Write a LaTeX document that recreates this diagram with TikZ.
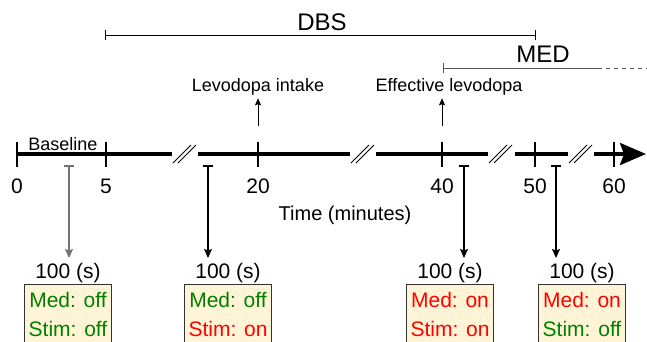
\documentclass[tikz,border=0pt]{standalone}
\usepackage{fontspec}
\setmainfont{Liberation Sans}
\usetikzlibrary{arrows.meta}
\definecolor{medgreen}{RGB}{0,128,0}
\definecolor{medred}{RGB}{255,0,0}
\definecolor{boxfill}{RGB}{255,245,214}

\begin{document}
\begin{tikzpicture}[x=1pt,y=-1pt,
  axis/.style={line width=3.6pt},
  tick/.style={line width=1.1pt},
  brk/.style={line width=0.8pt},
  span/.style={line width=1pt},
  rec/.style={line width=1.1pt,-{Stealth[length=9pt,width=8pt,inset=1.5pt]}},
  recbox/.style={draw=black!80,line width=1pt,fill=boxfill,minimum width=87pt,
    minimum height=64pt,inner sep=0pt},
  state/.style={font=\fontsize{21}{25}\selectfont,anchor=base},
  big/.style={font=\fontsize{24}{28}\selectfont},
  mid/.style={font=\fontsize{21}{25}\selectfont},
  small/.style={font=\fontsize{18}{22}\selectfont}]

\clip (0,0) rectangle (647,341);

% time axis, broken in four places
\coordinate (A0) at (17,154);
\coordinate (A1) at (172,154);
\coordinate (B0) at (198,154);
\coordinate (B1) at (350,154);
\coordinate (C0) at (376,154);
\coordinate (C1) at (488,154);
\coordinate (D0) at (515,154);
\coordinate (D1) at (568,154);
\coordinate (E0) at (594,154);
\coordinate (E1) at (646,154);
\draw[axis] (A0) -- (A1);
\draw[axis] (B0) -- (B1);
\draw[axis] (C0) -- (C1);
\draw[axis] (D0) -- (D1);
\draw[axis,-{Stealth[length=26pt,width=22pt,inset=4pt]}] (E0) -- (E1);
\foreach \c in {185,363,501,581}{
  \draw[brk] (\c-12,163) -- (\c+6,145);
  \draw[brk] (\c-7,163) -- (\c+11,145);
}

% ticks and minutes
\foreach \x/\t in {17/0,106/5,258/20,442/40,535/50,614/60}{
  \draw[tick] (\x,142) -- (\x,167);
  \node[mid,anchor=base] (L\t) at (\x,193) {\t};
}
\node[font=\fontsize{20}{24}\selectfont,anchor=base] (time) at (345,220) {Time (minutes)};
\node[small,anchor=base] (base) at (63,150) {Baseline};

% levodopa
\node[small,anchor=base] (intake) at (258,91) {Levodopa intake};
\node[small,anchor=base] (effect) at (449,91) {Effective levodopa};
\coordinate (I0) at (258,126);
\coordinate (F0) at (442,126);
\draw[line width=1pt,-{Stealth[length=7pt,width=6pt,inset=1pt]}] (I0) -- (intake.south -| I0);
\draw[line width=1pt,-{Stealth[length=7pt,width=6pt,inset=1pt]}] (F0) -- (effect.south -| F0);

% DBS and MED periods
\coordinate (dbs0) at (105,35);
\coordinate (dbs1) at (535,35);
\draw[span] (dbs0) -- (dbs1);
\draw[span] ([yshift=-5]dbs0) -- ([yshift=5]dbs0);
\draw[span] ([yshift=-5]dbs1) -- ([yshift=5]dbs1);
\node[big,anchor=base] (DBS) at (322,30) {DBS};
\coordinate (med0) at (443,68);
\coordinate (med1) at (598,68);
\coordinate (med2) at (647,68);
\draw[span,black!65] (med0) -- (med1);
\draw[span,black!65,dash pattern=on 4pt off 4pt] (med1) -- (med2);
\draw[span,black!65] ([yshift=-5]med0) -- ([yshift=5]med0);
\node[big,anchor=base] (MED) at (543,62) {MED};

% recordings
\node[mid,anchor=base] (d1) at (68,278) {100 (s)};
\node[mid,anchor=base] (d2) at (228,278) {100 (s)};
\node[mid,anchor=base] (d3) at (450,278) {100 (s)};
\node[mid,anchor=base] (d4) at (582,278) {100 (s)};
\node[recbox,anchor=north] (R1) at (68,284) {};
\node[recbox,anchor=north] (R2) at (228,284) {};
\node[recbox,anchor=north] (R3) at (450,284) {};
\node[recbox,anchor=north] (R4) at (582,284) {};
\node[state,medgreen] (m1) at (68,307) {Med: off};
\node[state,medgreen] (s1) at (68,336) {Stim: off};
\node[state,medgreen] (m2) at (228,307) {Med: off};
\node[state,medred] (s2) at (228,336) {Stim: on};
\node[state,medred] (m3) at (450,307) {Med: on};
\node[state,medred] (s3) at (450,336) {Stim: on};
\node[state,medred] (m4) at (582,307) {Med: on};
\node[state,medgreen] (s4) at (582,336) {Stim: off};

\coordinate (S1) at (69,166);
\coordinate (S2) at (208,166);
\coordinate (S3) at (464,166);
\coordinate (S4) at (556,166);
\coordinate (S1e) at (69,258);
\coordinate (S2e) at (208,258);
\coordinate (S3e) at (464,258);
\coordinate (S4e) at (556,258);
\draw[rec,black!55] (S1) -- (S1e);
\draw[rec] (S2) -- (S2e);
\draw[rec] (S3) -- (S3e);
\draw[rec] (S4) -- (S4e);
\draw[line width=1.1pt,black!55] ([xshift=-5]S1) -- ([xshift=5]S1);
\draw[line width=1.1pt] ([xshift=-5]S2) -- ([xshift=5]S2);
\draw[line width=1.1pt] ([xshift=-5]S3) -- ([xshift=5]S3);
\draw[line width=1.1pt] ([xshift=-5]S4) -- ([xshift=5]S4);

\end{tikzpicture}
\end{document}
